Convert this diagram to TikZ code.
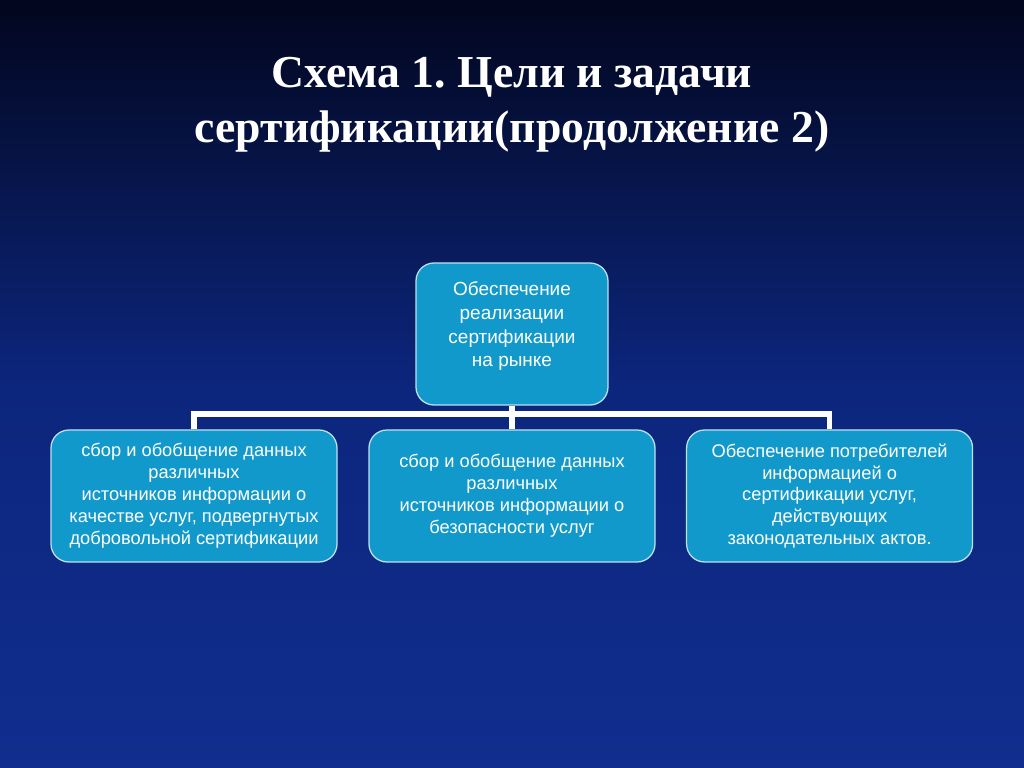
\documentclass[tikz,border=0pt]{standalone}
\usepackage{fontspec}
\setmainfont{Liberation Serif}
\newfontfamily\boxfont{Liberation Sans}
\usetikzlibrary{positioning,arrows.meta}
\frenchspacing

\definecolor{bgtop}{RGB}{2,6,30}
\definecolor{bgmid}{RGB}{12,38,125}
\definecolor{bgbot}{RGB}{17,46,142}
\definecolor{boxfill}{RGB}{17,153,204}
\definecolor{boxedge}{RGB}{190,225,240}

\begin{document}
\begin{tikzpicture}[
    box/.style={draw=boxedge, line width=0.9pt, fill=boxfill, rounded corners=0.45cm,
        text=white, align=center, font=\boxfont\fontsize{13}{15.6}\selectfont,
        minimum width=7.15cm, minimum height=3.3cm, inner sep=2pt},
    link/.style={draw=white, line width=3.6pt}]
    % Background
    \fill[top color=bgtop, bottom color=bgbot, middle color=bgmid] (0,0) rectangle (25.6,19.2);
    \useasboundingbox (0,0) rectangle (25.6,19.2);

    % Title
    \node[text=white, align=center, font=\bfseries\fontsize{32.5}{38.5}\selectfont] (title) at (12.8,16.58)
        {Схема 1. Цели и задачи\\сертификации(продолжение 2)};

    % Top box
    \node[box, minimum width=4.8cm, minimum height=3.55cm,
        font=\boxfont\fontsize{13.5}{17}\selectfont] (goal) at (12.8,10.85)
        {Обеспечение\\реализации\\сертификации\\на рынке\\[-3pt]\mbox{}};

    % Bottom row
    \node[box] (left) at (4.85,6.8)
        {сбор и обобщение данных\\различных\\источников информации о\\качестве услуг, подвергнутых\\добровольной сертификации};
    \node[box] (mid) at (12.8,6.8)
        {сбор и обобщение данных\\различных\\источников информации о\\безопасности услуг};
    \node[box] (right) at (20.74,6.8)
        {Обеспечение потребителей\\информацией о\\сертификации услуг,\\действующих\\законодательных актов.};

    % Connectors
    \coordinate (bar) at (12.8,8.85);
    \draw[link] (left.north) |- (bar) -| (right.north);
    \draw[link] (goal.south) -- (mid.north);
\end{tikzpicture}
\end{document}
